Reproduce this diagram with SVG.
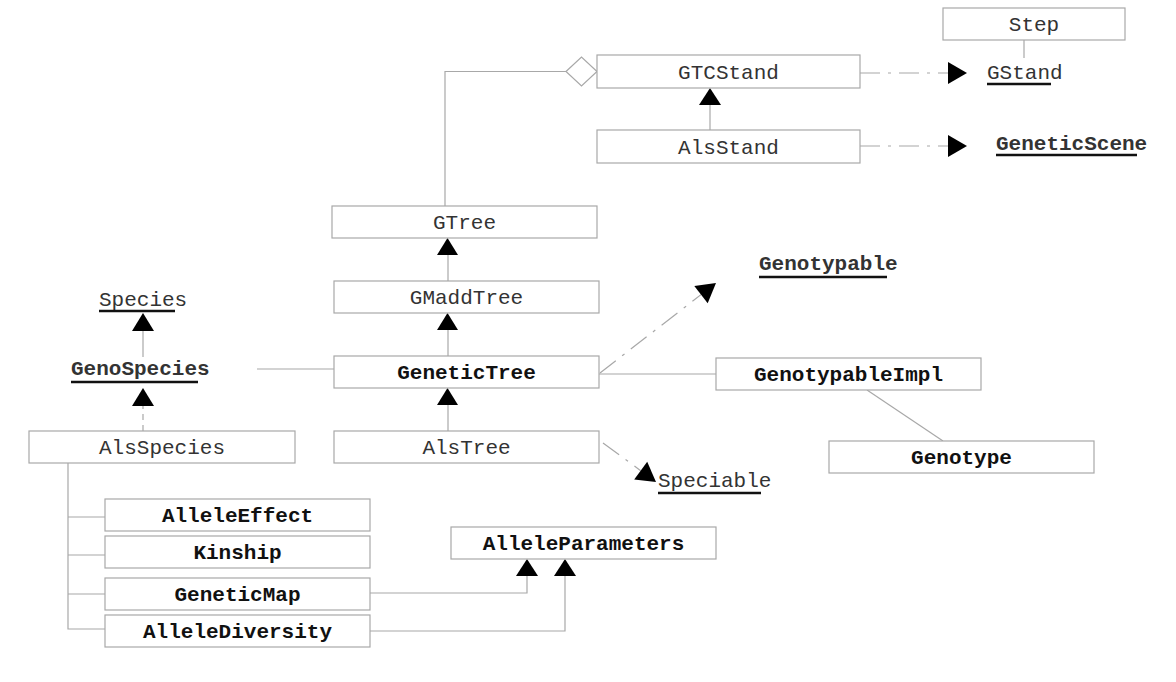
<svg xmlns="http://www.w3.org/2000/svg" width="1176" height="682" viewBox="0 0 1176 682">
<style>
.box{fill:#fff;stroke:#a8a8a8;stroke-width:1.2}
.t{font-family:"Liberation Mono",monospace;font-size:21px;fill:#333;text-anchor:middle}
.b{font-weight:bold;fill:#111}
.lbl{font-family:"Liberation Mono",monospace;font-size:21px;fill:#333}
.ul{stroke:#111;stroke-width:2.5}
.ln{fill:none;stroke:#a8a8a8;stroke-width:1.2}
.dash{fill:none;stroke:#a8a8a8;stroke-width:1.2;stroke-dasharray:20,8,3,8}
.arr{fill:#000}
</style>
<rect width="1176" height="682" fill="#fff"/>
<g id="connectors">
  <path class="ln" d="M445,206 V71.5 H566"/>
  <polygon points="566,71.5 581.5,57 597,71.5 581.5,86" fill="#fff" stroke="#a8a8a8" stroke-width="1.2"/>
  <line class="ln" x1="1024" y1="40" x2="1024" y2="58"/>
  <line class="dash" x1="860" y1="73" x2="948" y2="73"/>
  <polygon class="arr" points="948,62 967,73 948,84"/>
  <line class="dash" x1="860" y1="146" x2="948" y2="146"/>
  <polygon class="arr" points="948,135 967,146 948,157"/>
  <line class="ln" x1="710" y1="130" x2="710" y2="105"/>
  <polygon class="arr" points="699,105 710,88 721,105"/>
  <line class="ln" x1="448" y1="281" x2="448" y2="255"/>
  <polygon class="arr" points="437,255 447.5,238 458,255"/>
  <line class="ln" x1="448" y1="356" x2="448" y2="330"/>
  <polygon class="arr" points="437,330 447.5,313 458,330"/>
  <line class="ln" x1="448" y1="431" x2="448" y2="405"/>
  <polygon class="arr" points="437,405 447.5,388 458,405"/>
  <line class="ln" x1="257" y1="369" x2="334" y2="369"/>
  <line class="ln" x1="143" y1="357" x2="143" y2="331"/>
  <polygon class="arr" points="132,331 143,313 154,331"/>
  <line class="dash" x1="143" y1="431" x2="143" y2="406" style="stroke-dasharray:6,5"/>
  <polygon class="arr" points="132,406 143,388 154,406"/>
  <line class="ln" x1="599" y1="374" x2="716" y2="374"/>
  <line class="ln" x1="867" y1="390" x2="943" y2="441"/>
  <line class="dash" x1="600" y1="373" x2="701" y2="294.6"/>
  <polygon class="arr" points="716,283 694.3,285.9 707.7,303.3"/>
  <line class="dash" x1="603" y1="443" x2="640.7" y2="470.7"/>
  <polygon class="arr" points="656,482 634.2,479.6 647.2,461.8"/>
  <path class="ln" d="M68,463 V629 H105 M68,517 H105 M68,555 H105 M68,594 H105"/>
  <path class="ln" d="M370,593 H527 V576"/>
  <polygon class="arr" points="516,576 527,559 538,576"/>
  <path class="ln" d="M370,631 H565 V576"/>
  <polygon class="arr" points="554,576 565,559 576,576"/>
</g>
<g id="Step"><rect class="box" x="943" y="8" width="182" height="32"/><text class="t" x="1034" y="31">Step</text></g>
<g id="GTCStand"><rect class="box" x="597" y="55" width="263" height="33"/><text class="t" x="728.5" y="78.5">GTCStand</text></g>
<g id="AlsStand"><rect class="box" x="597" y="130" width="263" height="33"/><text class="t" x="728.5" y="153.5">AlsStand</text></g>
<g id="GStand"><text class="lbl" x="987" y="79">GStand</text><line class="ul" x1="987" y1="84" x2="1051" y2="84"/></g>
<g id="GeneticScene"><text class="lbl b" x="996" y="150">GeneticScene</text><line class="ul" x1="996" y1="155" x2="1137" y2="155"/></g>
<g id="GTree"><rect class="box" x="332" y="206" width="265" height="32"/><text class="t" x="464.5" y="229">GTree</text></g>
<g id="GMaddTree"><rect class="box" x="334" y="281" width="265" height="32"/><text class="t" x="466.5" y="304">GMaddTree</text></g>
<g id="GeneticTree"><rect class="box" x="334" y="356" width="265" height="32"/><text class="t b" x="466.5" y="379">GeneticTree</text></g>
<g id="AlsTree"><rect class="box" x="334" y="431" width="265" height="32"/><text class="t" x="466.5" y="454">AlsTree</text></g>
<g id="Genotypable"><text class="lbl b" x="759" y="270">Genotypable</text><line class="ul" x1="759" y1="277" x2="887" y2="277"/></g>
<g id="Species"><text class="lbl" x="99" y="306">Species</text><line class="ul" x1="99" y1="311" x2="175" y2="311"/></g>
<g id="GenoSpecies"><text class="lbl b" x="71" y="375">GenoSpecies</text><line class="ul" x1="71" y1="382" x2="198" y2="382"/></g>
<g id="Speciable"><text class="lbl" x="658" y="487">Speciable</text><line class="ul" x1="658" y1="493" x2="761" y2="493"/></g>
<g id="AlsSpecies"><rect class="box" x="29" y="431" width="266" height="32"/><text class="t" x="162" y="454">AlsSpecies</text></g>
<g id="GenotypableImpl"><rect class="box" x="716" y="358" width="265" height="32"/><text class="t b" x="848.5" y="381">GenotypableImpl</text></g>
<g id="Genotype"><rect class="box" x="829" y="441" width="265" height="32"/><text class="t b" x="961.5" y="464">Genotype</text></g>
<g id="AlleleEffect"><rect class="box" x="105" y="499" width="265" height="32"/><text class="t b" x="237.5" y="522">AlleleEffect</text></g>
<g id="Kinship"><rect class="box" x="105" y="536" width="265" height="32"/><text class="t b" x="237.5" y="559">Kinship</text></g>
<g id="GeneticMap"><rect class="box" x="105" y="578" width="265" height="32"/><text class="t b" x="237.5" y="601">GeneticMap</text></g>
<g id="AlleleDiversity"><rect class="box" x="105" y="615" width="265" height="32"/><text class="t b" x="237.5" y="638">AlleleDiversity</text></g>
<g id="AlleleParameters"><rect class="box" x="451" y="527" width="265" height="32"/><text class="t b" x="583.5" y="550">AlleleParameters</text></g>
</svg>
